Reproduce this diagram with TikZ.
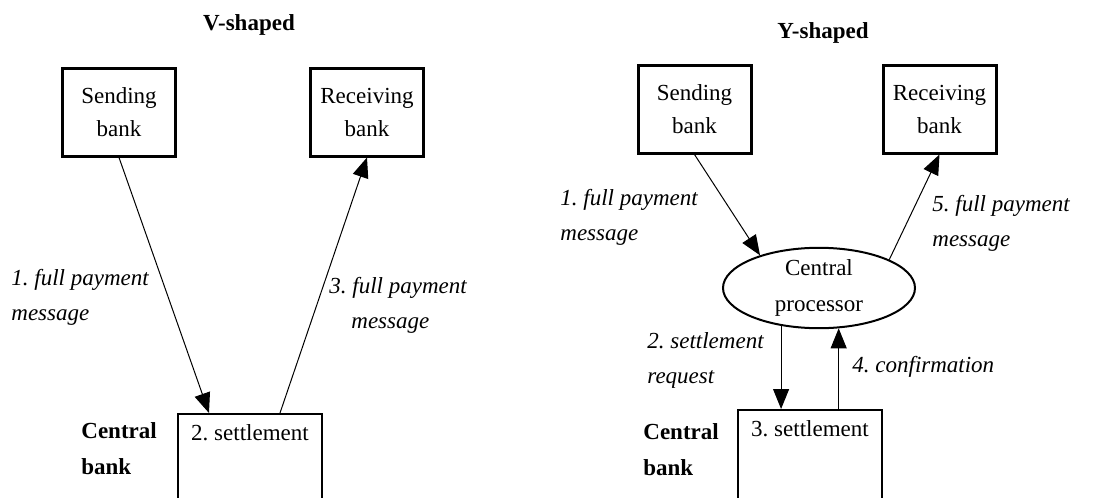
\documentclass[tikz,border=0pt]{standalone}
\usepackage{fontspec}
\setmainfont{Liberation Serif}
\usetikzlibrary{arrows.meta,positioning,shapes.geometric}

\tikzset{
  title/.style={font=\fontsize{11.5}{16.5}\selectfont\bfseries},
  bank/.style={draw, line width=1.5pt, minimum width=56.5pt, minimum height=44pt,
    inner sep=0pt, align=center, font=\fontsize{11.5}{16.5}\selectfont},
  settle/.style={draw, line width=1pt, minimum width=72pt, minimum height=60pt,
    inner sep=0pt, anchor=north},
  proc/.style={draw, ellipse, line width=1pt, minimum width=96pt, minimum height=39pt,
    inner sep=0pt, align=center, font=\fontsize{11.5}{18}\selectfont},
  txt/.style={font=\fontsize{11.5}{16.5}\selectfont},
  cb/.style={font=\fontsize{11.5}{18}\selectfont\bfseries, align=left, inner sep=0pt},
  msg/.style={font=\fontsize{11.5}{17.5}\selectfont\itshape, align=left, inner sep=0pt},
  flow/.style={-{Triangle[length=10pt,width=8pt]}, line width=0.5pt},
}

\begin{document}
\frenchspacing
\begin{tikzpicture}[x=0.5pt, y=-0.5pt]
\useasboundingbox (0,0) rectangle (1104,498);
\clip (0,0) rectangle (1104,498);

% V-shaped
\node[title] (vtitle) at (249,25) {V-shaped};
\node[bank] (sendL) at (119,112) {Sending\\bank};
\node[bank] (recvL) at (367,112) {Receiving\\bank};
\node[settle] (setL) at (250,413) {};
\node[txt, below=2pt of setL.north] (setLtxt) {2. settlement};
\node[cb, anchor=west] (cbL) at (81,449) {Central\\bank};

\draw[flow] (sendL.south) -- ([xshift=16pt]setL.north west);
\draw[flow] ([xshift=51.5pt]setL.north west) -- (recvL.south);

\node[msg, anchor=west] (m1L) at (11,297) {1. full payment\\message};
\node[msg, anchor=west] (m3L) at (329,305) {3. full payment\\\hspace*{11pt}message};

% Y-shaped
\node[title] (ytitle) at (823,33) {Y-shaped};
\node[bank] (sendR) at (694.5,109) {Sending\\bank};
\node[bank] (recvR) at (939.5,109) {Receiving\\bank};
\node[proc] (proc) at (819,288) {Central\\processor};
\node[settle] (setR) at (810,409) {};
\node[txt, below=2pt of setR.north] (setRtxt) {3. settlement};
\node[cb, anchor=west] (cbR) at (643,449.5) {Central\\bank};

\draw[flow] (sendR.south) -- (proc.151);
\draw[flow] (proc.22) -- (recvR.south);
\draw[flow] (proc.225) -- (proc.225 |- setR.north);
\draw[flow] (proc.296 |- setR.north) -- (proc.296);

\node[msg, anchor=west] (m1R) at (560,217) {1. full payment\\message};
\node[msg, anchor=west] (m5R) at (932,223.5) {5. full payment\\message};
\node[msg, anchor=west] (m2R) at (647,360) {2. settlement\\request};
\node[msg, anchor=west] (m4R) at (852,367) {4. confirmation};
\end{tikzpicture}
\end{document}
